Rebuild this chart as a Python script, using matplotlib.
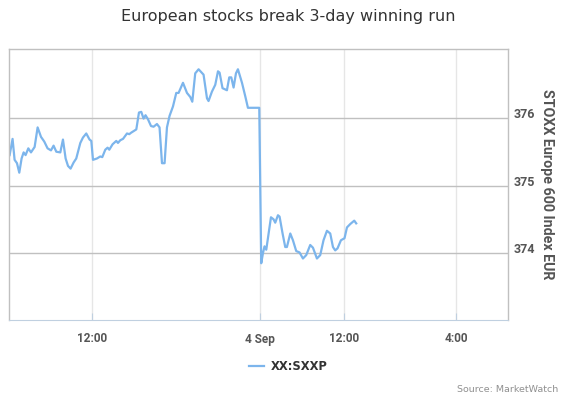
import numpy as np
import matplotlib.pyplot as plt
import matplotlib.transforms as mtransforms

# ordinal x positions (chart time units: 12:00 Sep 3 = 0, 4 Sep = 24, gap collapsed)
x = [-11.81, -11.39, -11.1, -10.76, -10.43, -10.1, -9.81, -9.53, -9.14, -8.76,
     -8.24, -7.81, -7.33, -6.86, -6.39, -5.9, -5.53, -5.14, -4.57, -4.19,
     -3.81, -3.47, -3.1, -2.67, -2.29, -1.71, -1.33, -0.86, -0.39, -0.14,
     0.1, 0.67, 1.14, 1.43, 1.86, 2.19, 2.43, 2.9, 3.43, 3.67,
     4.0, 4.39, 4.96, 5.29, 5.53, 6.29, 6.67, 7.0, 7.33, 7.61,
     7.96, 8.39, 8.76, 9.24, 9.61, 9.96, 10.33, 10.67, 11.04, 11.53,
     12.0, 12.33, 12.96, 13.53, 14.0, 14.29, 14.71, 15.19, 15.9, 16.39,
     16.61, 17.1, 17.57, 17.96, 18.19, 18.61, 19.24, 19.57, 19.86, 20.19,
     20.53, 20.81, 21.39, 21.86, 22.24, 23.86, 24.14, 24.39, 24.61, 24.86,
     25.53, 25.9, 26.14, 26.53, 26.76, 27.19, 27.57, 27.81, 28.29, 28.67,
     29.14, 29.61, 30.1, 30.57, 31.14, 31.53, 32.1, 32.57, 33.04, 33.53,
     34.0, 34.39, 34.71, 35.04, 35.53, 36.04, 36.39, 36.86, 37.43, 37.71]

sxxp = [375.45, 375.69, 375.38, 375.33, 375.19, 375.40, 375.49, 375.45, 375.55, 375.49,
        375.57, 375.86, 375.72, 375.65, 375.55, 375.52, 375.59, 375.50, 375.49, 375.68,
        375.40, 375.29, 375.25, 375.34, 375.40, 375.63, 375.71, 375.77, 375.68, 375.66,
        375.38, 375.40, 375.43, 375.42, 375.53, 375.56, 375.53, 375.61, 375.66, 375.63,
        375.67, 375.69, 375.77, 375.76, 375.78, 375.83, 376.08, 376.09, 375.99, 376.04,
        375.98, 375.88, 375.87, 375.91, 375.86, 375.33, 375.33, 375.86, 376.03, 376.17,
        376.37, 376.37, 376.52, 376.37, 376.31, 376.24, 376.66, 376.72, 376.64, 376.29,
        376.25, 376.39, 376.49, 376.69, 376.67, 376.44, 376.41, 376.60, 376.60, 376.45,
        376.66, 376.72, 376.52, 376.32, 376.15, 376.15, 373.85, 374.00, 374.10, 374.05,
        374.53, 374.50, 374.45, 374.56, 374.54, 374.29, 374.09, 374.09, 374.29, 374.19,
        374.03, 374.01, 373.92, 373.97, 374.12, 374.08, 373.92, 373.97, 374.19, 374.33,
        374.29, 374.09, 374.04, 374.07, 374.19, 374.22, 374.38, 374.43, 374.48, 374.44]

xtick_pos = [0, 24, 36, 52]
xtick_labels = ['12:00', '4 Sep', '12:00', '4:00']
ytick_pos = [374, 375, 376]

plt.rcParams['font.family'] = ['Roboto', 'DejaVu Sans']

fig = plt.figure(figsize=(5.69, 3.98), dpi=100)
ax = fig.add_axes([9 / 569, 1 - 320 / 398, 499 / 569, 271 / 398])

ax.plot(x, sxxp, color='#7cb5ec', lw=1.6, solid_joinstyle='round', label='XX:SXXP')

ax.set_xlim(-11.9, 59.4)
ax.set_ylim(373.01, 377.02)

ax.set_xticks(xtick_pos)
ax.set_xticklabels(xtick_labels, fontsize=8.5, fontweight='bold', color='#555555')
ax.tick_params(axis='x', direction='in', length=5, color='#c0d0e0', pad=9)
ax.grid(axis='x', color='#e6e6e6', lw=1)

ax.yaxis.tick_right()
ax.set_yticks(ytick_pos)
ax.set_yticklabels([str(v) for v in ytick_pos], fontsize=9, fontweight='bold', color='#555555')
ax.tick_params(axis='y', length=0, pad=4)
ax.grid(axis='y', color='#c0c0c0', lw=1)
ax.set_axisbelow(True)
# labels sit a little above their gridlines
shift = mtransforms.ScaledTranslation(0, 5 / 100, fig.dpi_scale_trans)
for lab in ax.get_yticklabels():
    lab.set_transform(lab.get_transform() + shift)

ax.yaxis.set_label_position('right')
ax.set_ylabel('STOXX Europe 600 Index EUR', rotation=-90, fontsize=10.3,
              fontweight='bold', color='#555555', labelpad=14)

for s in ['top', 'left', 'right']:
    ax.spines[s].set_color('#c0c0c0')
    ax.spines[s].set_linewidth(1)
ax.spines['bottom'].set_color('#c0d0e0')

fig.text(288 / 569, 1 - 17 / 398, 'European stocks break 3-day winning run',
         ha='center', va='center', fontsize=11.5, color='#333333', family='DejaVu Sans')

fig.legend(loc='center', bbox_to_anchor=(288.5 / 569, 1 - 367 / 398), frameon=False,
           prop={'size': 8.3, 'weight': 'bold', 'family': 'DejaVu Sans'},
           handlelength=1.3, handletextpad=0.6, labelcolor='#333333')

fig.text(558 / 569, 1 - 389 / 398, 'Source: MarketWatch', ha='right', va='center',
         fontsize=6.8, color='#909090', family='DejaVu Sans')

fig.savefig('out.png', dpi=100)
